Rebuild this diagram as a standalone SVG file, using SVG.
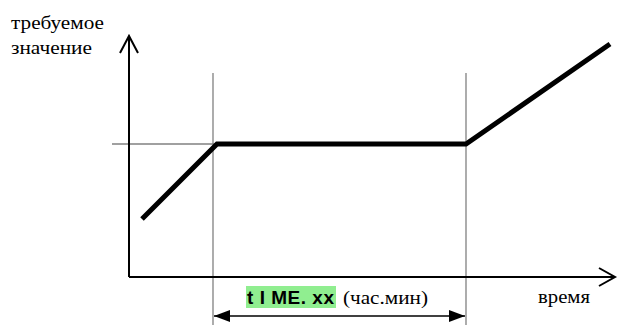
<svg xmlns="http://www.w3.org/2000/svg" width="618" height="325" viewBox="0 0 618 325">
<style>
.bold{font-family:'Liberation Sans',Arial,sans-serif;font-size:19px;font-weight:bold;fill:#000}
.serif{font-family:'Liberation Serif','Times New Roman','DejaVu Serif',serif;font-size:18px;fill:#000}
.axis{stroke:#000;stroke-width:2;fill:none}
.guide{stroke:#808080;stroke-width:1.3;fill:none}
</style>
<defs>
<marker id="tri" markerWidth="16" markerHeight="12" refX="16" refY="6" orient="auto-start-reverse" markerUnits="userSpaceOnUse">
<path d="M0,0 L16,6 L0,12 Z" fill="#000"/>
</marker>
</defs>
<g id="connectors">
<line class="guide" x1="213" y1="73" x2="213" y2="325"/>
<line class="guide" x1="466" y1="73" x2="466" y2="325"/>
<line class="guide" x1="112" y1="144" x2="216" y2="144"/>
<path class="axis" d="M129,277 V36 M120,53 L129,36 L138,53"/>
<path class="axis" d="M129,277 H615 M599,268 L615,277 L599,286"/>
<line x1="214" y1="316" x2="465" y2="316" stroke="#000" stroke-width="1.3" marker-start="url(#tri)" marker-end="url(#tri)"/>
<polyline points="142,219 217,144 466,144 610,44" fill="none" stroke="#000" stroke-width="5"/>
</g>
<g id="label-y">
<text class="serif" x="11" y="29" textLength="93" lengthAdjust="spacingAndGlyphs">требуемое</text>
<text class="serif" x="11" y="54" textLength="81" lengthAdjust="spacingAndGlyphs">значение</text>
</g>
<g id="label-x">
<text class="serif" x="538" y="303" textLength="52" lengthAdjust="spacingAndGlyphs">время</text>
</g>
<g id="label-time">
<rect x="246" y="286" width="90" height="22" fill="#90EE90"/>
<text class="bold" x="247" y="304" textLength="87" lengthAdjust="spacing">t I ME. xx</text>
<text class="serif" x="343" y="304" textLength="85" lengthAdjust="spacingAndGlyphs">(час.мин)</text>
</g>
</svg>
